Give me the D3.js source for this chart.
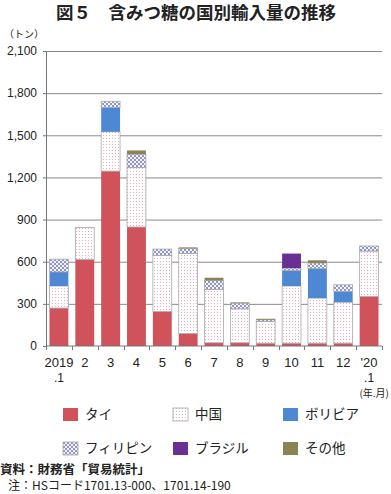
<!DOCTYPE html>
<html>
<head>
<meta charset="utf-8">
<script src="https://cdn.jsdelivr.net/npm/d3@7"></script>
<style>
  body { margin: 0; background: #fff; }
  text { font-family: "Liberation Sans", "Noto Sans CJK JP", sans-serif; fill: #222; }
  .jp { font-family: "Noto Sans CJK JP", sans-serif; }
</style>
</head>
<body>
<svg id="chart" width="391" height="494"></svg>
<script>
// data (tons)
var months = ["2019", "2", "3", "4", "5", "6", "7", "8", "9", "10", "11", "12", "'20"];
var thai        = [270, 615, 1245, 847, 246, 89, 23, 23, 20, 20, 20, 20, 353];
var china       = [157, 228, 280, 424, 399, 569, 380, 242, 155, 407, 321, 292, 323];
var bolivia     = [100, 0, 174, 0, 0, 0, 0, 0, 0, 111, 210, 77, 0];
var philippines = [91, 0, 43, 95, 45, 37, 64, 40, 12, 17, 40, 47, 36];
var brazil      = [0, 0, 0, 0, 0, 0, 0, 0, 0, 103, 0, 0, 0];
var other       = [0, 0, 0, 26, 0, 7, 19, 5, 7, 0, 19, 0, 0];
var yTicks = [0, 300, 600, 900, 1200, 1500, 1800, 2100];

var keys = ["thai", "china", "bolivia", "philippines", "brazil", "other"];
var names = {thai: "タイ", china: "中国", bolivia: "ボリビア", philippines: "フィリピン", brazil: "ブラジル", other: "その他"};

var rows = months.map(function(m, i) {
  return {month: m, thai: thai[i], china: china[i], bolivia: bolivia[i],
          philippines: philippines[i], brazil: brazil[i], other: other[i]};
});

var svg = d3.select("#chart"),
    margin = {top: 51, right: 9, bottom: 148, left: 46},
    width = +svg.attr("width") - margin.left - margin.right,
    height = +svg.attr("height") - margin.top - margin.bottom,
    g = svg.append("g").attr("transform", "translate(" + margin.left + "," + margin.top + ")");

// patterns for china / philippines
var defs = svg.append("defs");
var pc = defs.append("pattern").attr("id", "pat-china")
    .attr("width", 3).attr("height", 3).attr("patternUnits", "userSpaceOnUse");
pc.append("rect").attr("width", 3).attr("height", 3).attr("fill", "#fff");
pc.append("rect").attr("width", 1).attr("height", 1).attr("fill", "#e6a9bf");

var pp = defs.append("pattern").attr("id", "pat-phil")
    .attr("width", 4).attr("height", 4).attr("patternUnits", "userSpaceOnUse");
pp.append("rect").attr("width", 4).attr("height", 4).attr("fill", "#f4f4fb");
pp.append("rect").attr("width", 2).attr("height", 2).attr("fill", "#8f95c8");
pp.append("rect").attr("x", 2).attr("y", 2).attr("width", 2).attr("height", 2).attr("fill", "#8f95c8");

var fills = {thai: "#d0525a", china: "url(#pat-china)", bolivia: "#4f88d2",
             philippines: "url(#pat-phil)", brazil: "#6a2f92", other: "#8c8253"};
var strokes = {thai: "none", china: "#a8a8a8", bolivia: "none",
               philippines: "#a8a8a8", brazil: "none", other: "none"};

var x = d3.scaleBand().domain(months).range([0, width]).paddingInner(0.27).paddingOuter(0.135);
var y = d3.scaleLinear().domain([0, 2100]).range([height, 0]);

// gridlines
g.append("g")
    .selectAll("line")
    .data(yTicks.slice(1))
    .enter().append("line")
      .attr("x1", 0).attr("x2", width)
      .attr("y1", function(d) { return y(d) + 0.5; })
      .attr("y2", function(d) { return y(d) + 0.5; })
      .attr("stroke", "#8a8a8a");

// bars
var series = d3.stack().keys(keys)(rows);
g.selectAll(".layer")
    .data(series)
    .enter().append("g")
      .attr("class", "layer")
    .selectAll("rect")
    .data(function(s) { return s.map(function(d) { d.key = s.key; return d; }); })
    .enter().filter(function(d) { return d[1] - d[0] > 0; }).append("rect")
      .attr("x", function(d) { return x(d.data.month); })
      .attr("width", x.bandwidth())
      .attr("y", function(d) { return y(d[1]); })
      .attr("height", function(d) { return y(d[0]) - y(d[1]); })
      .attr("fill", function(d) { return fills[d.key]; })
      .attr("stroke", function(d) { return strokes[d.key]; })
      .attr("stroke-width", 0.8);

// y axis
var yAxis = g.append("g")
    .attr("class", "axis axis--y")
    .call(d3.axisLeft(y).tickValues(yTicks).tickSize(3).tickPadding(6).tickFormat(d3.format(",")));
yAxis.select(".domain").attr("stroke", "#777");
yAxis.selectAll(".tick line").attr("stroke", "#777");
yAxis.selectAll("text").style("font-size", "12px").attr("fill", "#222");

// x axis: ticks at category boundaries
var xAxis = g.append("g")
    .attr("class", "axis axis--x")
    .attr("transform", "translate(0," + height + ")");
xAxis.append("line").attr("x1", 0).attr("x2", width).attr("stroke", "#777");
var step = x.step();
xAxis.selectAll(".bound")
    .data(d3.range(months.length + 1))
    .enter().append("line")
      .attr("x1", function(i) { return Math.round(i * step) + 0.5; })
      .attr("x2", function(i) { return Math.round(i * step) + 0.5; })
      .attr("y1", 0).attr("y2", 4)
      .attr("stroke", "#777");
xAxis.selectAll(".lab")
    .data(months)
    .enter().append("text")
      .attr("x", function(d) { return x(d) + x.bandwidth() / 2; })
      .attr("y", 21)
      .attr("text-anchor", "middle")
      .style("font-size", "13px")
      .text(function(d) { return d; });
xAxis.selectAll(".sub")
    .data([months[0], months[months.length - 1]])
    .enter().append("text")
      .attr("x", function(d) { return x(d) + x.bandwidth() / 2; })
      .attr("y", 36)
      .attr("text-anchor", "middle")
      .style("font-size", "12px")
      .text(".1");
xAxis.append("text")
    .attr("class", "jp")
    .attr("x", width + 7).attr("y", 51)
    .attr("text-anchor", "end")
    .style("font-size", "10px")
    .text("(年.月)");

// title and unit
svg.append("text")
    .attr("class", "jp")
    .attr("x", 196).attr("y", 19)
    .attr("text-anchor", "middle")
    .style("font-size", "17.5px").style("font-weight", "bold")
    .text("図５　含みつ糖の国別輸入量の推移");
svg.append("text")
    .attr("class", "jp")
    .attr("x", 4).attr("y", 38)
    .style("font-size", "10px")
    .text("（トン）");

// legend
var legendPos = [[63, 408], [173, 408], [283, 408], [63, 442], [173, 442], [283, 442]];
var legend = svg.selectAll(".legend")
    .data(keys)
    .enter().append("g")
      .attr("class", "legend")
      .attr("transform", function(d, i) { return "translate(" + legendPos[i][0] + "," + legendPos[i][1] + ")"; });
legend.append("rect")
    .attr("width", 15).attr("height", 13)
    .attr("fill", function(d) { return fills[d]; })
    .attr("stroke", function(d) { return strokes[d]; })
    .attr("stroke-width", 0.8);
legend.append("text")
    .attr("class", "jp")
    .attr("x", 22).attr("y", 11)
    .style("font-size", "13.5px")
    .text(function(d) { return names[d]; });

// source / note
svg.append("text")
    .attr("class", "jp")
    .attr("x", 0).attr("y", 474)
    .style("font-size", "12.5px").style("font-weight", "bold")
    .text("資料：財務省「貿易統計」");
svg.append("text")
    .attr("class", "jp")
    .attr("x", 8).attr("y", 490)
    .style("font-size", "12px")
    .text("注：HSコード1701.13-000、1701.14-190");
</script>
</body>
</html>
